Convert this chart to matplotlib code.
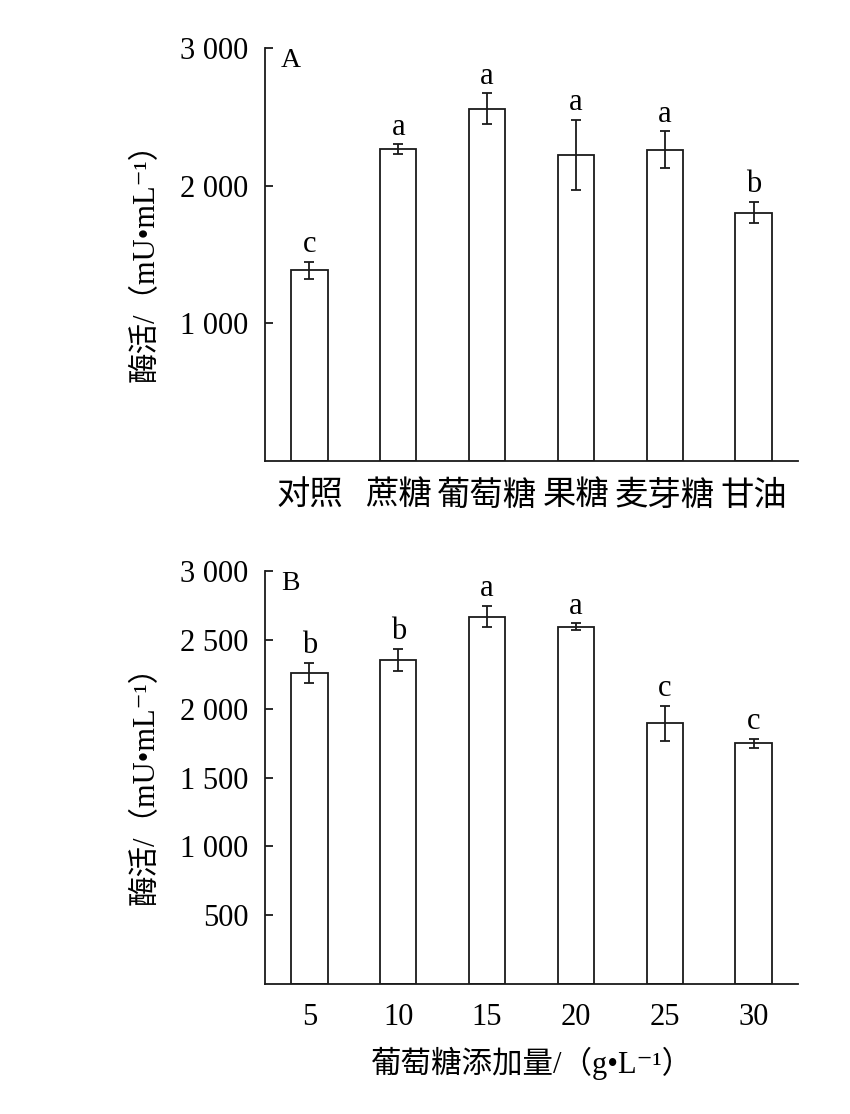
import matplotlib
matplotlib.use('Agg')
import matplotlib.pyplot as plt
import numpy as np

fam = ['Liberation Serif', 'Noto Sans CJK SC', 'DejaVu Sans']
plt.rcParams['font.family'] = fam

# Panel A: carbon source
carbon_labels = ['对照', '蔗糖', '葡萄糖', '果糖', '麦芽糖', '甘油']
carbon_values = [1385, 2265, 2560, 2225, 2260, 1805]
carbon_errors = [62, 35, 110, 255, 135, 78]
carbon_letters = ['c', 'a', 'a', 'a', 'a', 'b']

# Panel B: glucose dosage
glucose_labels = ['5', '10', '15', '20', '25', '30']
glucose_values = [2260, 2355, 2668, 2597, 1893, 1748]
glucose_errors = [75, 78, 78, 22, 126, 30]
glucose_letters = ['b', 'b', 'a', 'a', 'c', 'c']

a_ticks = [1000, 2000, 3000]
b_ticks = [500, 1000, 1500, 2000, 2500, 3000]

ylabel = '酶活/（mU•mL⁻¹）'
xlabel_b = '葡萄糖添加量/（g•L⁻¹）'

fs = 22
lw = 1.3
ink = '#1a1a1a'


def fmt(v):
    return f'{v:,}'.replace(',', ' ')


def draw(ax, labels, values, errors, letters, yticks, tag, xfs):
    x = np.arange(len(labels))
    ax.bar(x, values, width=0.41, color='white', edgecolor=ink, linewidth=lw, zorder=2)
    ax.errorbar(x, values, yerr=errors, fmt='none', ecolor=ink, elinewidth=lw,
                capsize=3.5, capthick=lw, zorder=3)
    for xi, v, e, s in zip(x, values, errors, letters):
        ax.annotate(s, (xi, v + e), xytext=(0, 2), textcoords='offset points',
                    ha='center', va='bottom', fontsize=fs)
    ax.set_xlim(-0.5, len(labels) - 0.5)
    ax.set_ylim(0, 3000)
    ax.set_xticks(x)
    ax.set_xticklabels(labels, fontsize=xfs)
    ax.set_yticks(yticks)
    ax.set_yticklabels([fmt(t) for t in yticks], fontsize=fs)
    ax.tick_params(axis='y', direction='in', length=6, width=lw, pad=12, color=ink)
    ax.tick_params(axis='x', direction='in', length=6, width=lw, pad=14, color=ink)
    for side in ['top', 'right']:
        ax.spines[side].set_visible(False)
    for side in ['left', 'bottom']:
        ax.spines[side].set_linewidth(lw)
        ax.spines[side].set_color(ink)
    ax.set_ylabel(ylabel, fontsize=fs, labelpad=14)
    ax.text(0.03, 1.0, tag, transform=ax.transAxes, ha='left', va='top', fontsize=20)


fig = plt.figure(figsize=(8.5, 11.14), dpi=100)
ax1 = fig.add_axes([0.3118, 0.5862, 0.627, 0.3707])
ax2 = fig.add_axes([0.3118, 0.1167, 0.627, 0.3707])

draw(ax1, carbon_labels, carbon_values, carbon_errors, carbon_letters, a_ticks, 'A', 24)
draw(ax2, glucose_labels, glucose_values, glucose_errors, glucose_letters, b_ticks, 'B', fs)
ax2.set_xlabel(xlabel_b, fontsize=fs, labelpad=10)

fig.savefig('out.png', dpi=100)
